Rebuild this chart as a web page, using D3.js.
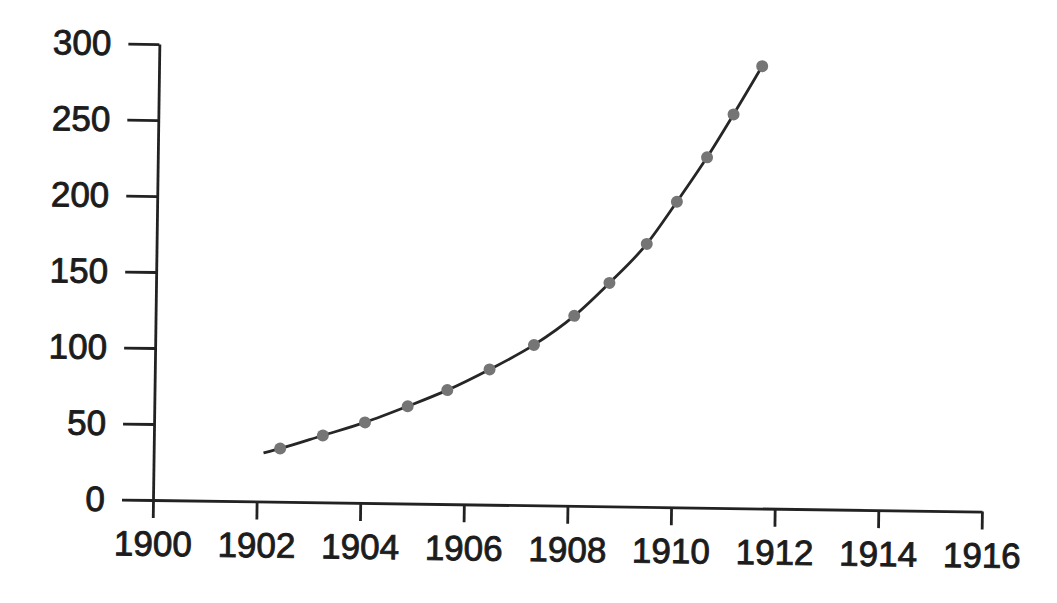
<!DOCTYPE html>
<html>
<head>
<meta charset="utf-8">
<script src="https://cdn.jsdelivr.net/npm/d3@7"></script>
<style>
  html, body { margin: 0; padding: 0; background: #fff; }
  svg { display: block; }
  .axis text { font-family: "Liberation Sans", Arial, sans-serif; font-size: 35px; fill: #1c1c1c;
               stroke: #1c1c1c; stroke-width: 0.9px; }
  .axis path, .axis line { stroke: #222; stroke-width: 2.8px; }
</style>
</head>
<body>
<svg id="chart" width="1057" height="603"></svg>
<script>
/* Scanned growth curve: measured points with a smooth line through them. */

var xTicks = [1900, 1902, 1904, 1906, 1908, 1910, 1912, 1914, 1916];
var yTicks = [0, 50, 100, 150, 200, 250, 300];

var pointYears = [1902.44, 1903.26, 1904.07, 1904.89, 1905.65, 1906.46, 1907.31,
                  1908.08, 1908.75, 1909.46, 1910.03, 1910.6, 1911.1, 1911.64];
var pointValues = [35, 44, 53, 64, 75, 89, 105.5, 125, 147, 173, 201, 230.5, 259, 291];

// the drawn line starts a little before the first measured point
var lineStartYear = 1902.12;
var lineStartValue = 32;

var svg = d3.select("#chart");
var ox = 153, oy = 500;

var x = d3.scaleLinear().domain([1900, 1916]).range([ox, 982]);
var y = d3.scaleLinear().domain([0, 300]).range([oy, 44]);

// the scan is turned a touch clockwise
var g = svg.append("g").attr("transform", "rotate(0.8," + ox + "," + oy + ")");

g.append("g").attr("class", "axis")
  .attr("transform", "translate(0," + oy + ")")
  .call(d3.axisBottom(x).tickValues(xTicks).tickFormat(d3.format("d"))
    .tickSizeInner(18).tickSizeOuter(0).tickPadding(13));

g.append("g").attr("class", "axis")
  .attr("transform", "translate(" + ox + ",0)")
  .call(d3.axisLeft(y).tickValues(yTicks).tickFormat(d3.format("d"))
    .tickSizeInner(31).tickSizeOuter(0).tickPadding(17));

var pts = pointYears.map(function (yr, i) { return [yr, pointValues[i]]; });
var linePts = [[lineStartYear, lineStartValue]].concat(pts);

var line = d3.line()
  .x(function (d) { return x(d[0]); })
  .y(function (d) { return y(d[1]); })
  .curve(d3.curveMonotoneX);

g.append("path").datum(linePts)
  .attr("d", line)
  .attr("fill", "none")
  .attr("stroke", "#262626")
  .attr("stroke-width", 2.8);

g.selectAll("circle.pt").data(pts).enter().append("circle")
  .attr("class", "pt")
  .attr("cx", function (d) { return x(d[0]); })
  .attr("cy", function (d) { return y(d[1]); })
  .attr("r", 6)
  .attr("fill", "#757575");
</script>
</body>
</html>
